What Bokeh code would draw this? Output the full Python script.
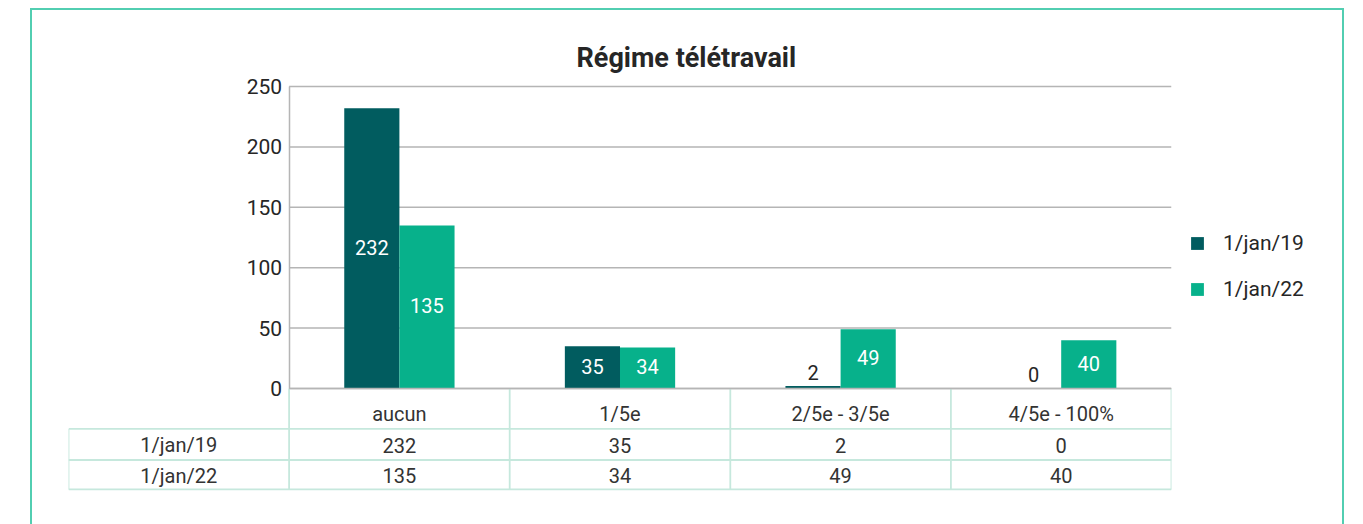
from bokeh.plotting import figure
from bokeh.models import FixedTicker, Legend, LegendItem, Range1d
from bokeh.core.properties import value
from bokeh.embed import file_html
from bokeh.resources import INLINE

# ---- data ----
categories = ["aucun", "1/5e", "2/5e - 3/5e", "4/5e - 100%"]
series_names = ["1/jan/19", "1/jan/22"]
values_2019 = [232, 35, 2, 0]
values_2022 = [135, 34, 49, 40]
y_ticks = [0, 50, 100, 150, 200, 250]
title_text = "Régime télétravail"

# ---- style ----
FONT = "Roboto"
DARK = "#015c5f"
LIGHT = "#07b18b"
GRID = "#b5b5b5"
TABLE_LINE = "#c6e8dd"
FRAME = "#52ceb1"
TEXT = "#262626"

n = len(categories)
BAR_W = 0.25
ROW_EDGES = [0, -33.5, -59.2, -83.6]   # table row boundaries (data units below zero)

p = figure(
    frame_width=1103, frame_height=416,
    min_border_left=38, min_border_right=173, min_border_top=66, min_border_bottom=34,
    x_range=Range1d(-1, n), y_range=Range1d(-84.44, 259.93),
    output_backend="svg", toolbar_location=None,
)
p.margin = (8, 0, 0, 30)
p.styles = {
    "width": "1314px",
    "max-width": "1314px",
    "box-shadow": f"inset 2px 0 0 0 {FRAME}, inset -2px 0 0 0 {FRAME}, inset 0 2px 0 0 {FRAME}",
}
p.outline_line_color = None
p.xgrid.visible = False
p.ygrid.visible = False
p.xaxis.visible = False
p.background_fill_alpha = 0
p.border_fill_alpha = 0

# title
p.title.text = title_text
p.title.text_font = FONT
p.title.text_font_size = "27px"
p.title.text_font_style = "bold"
p.title.text_color = TEXT
p.title.align = "left"
p.title.offset = 508
p.title.vertical_align = "bottom"
p.title.standoff = 1

# y axis fixed at x=0
ya = p.yaxis[0]
ya.fixed_location = 0
ya.bounds = (0, 250)
ya.ticker = FixedTicker(ticks=y_ticks)
ya.major_tick_line_color = None
ya.minor_tick_line_color = None
ya.axis_line_color = GRID
ya.axis_line_width = 1.5
ya.major_label_text_font = FONT
ya.major_label_text_font_size = "21px"
ya.major_label_text_color = TEXT
ya.major_label_standoff = 1

# gridlines (from tick values) across the plot area only
p.segment(x0=[0] * len(y_ticks), x1=[n] * len(y_ticks), y0=y_ticks, y1=y_ticks,
          line_color=GRID, line_width=1.5)

# bars
x19 = [i + 0.5 - BAR_W / 2 for i in range(n)]
x22 = [i + 0.5 + BAR_W / 2 for i in range(n)]
r19 = p.vbar(x=x19, top=values_2019, width=BAR_W, bottom=0, fill_color=DARK, line_color=None)
r22 = p.vbar(x=x22, top=values_2022, width=BAR_W, bottom=0, fill_color=LIGHT, line_color=None)

# value labels
inside_x, inside_y, inside_t = [], [], []
above_x, above_y, above_t = [], [], []
for xs, vals in ((x19, values_2019), (x22, values_2022)):
    for x, v in zip(xs, vals):
        if v >= 10:
            inside_x.append(x); inside_y.append(v / 2); inside_t.append(str(v))
        else:
            above_x.append(x); above_y.append(v); above_t.append(str(v))
p.text(x=inside_x, y=inside_y, text=inside_t, text_align="center", text_baseline="middle",
       text_color="white", text_font=value(FONT), text_font_size="20px", y_offset=-1)
p.text(x=above_x, y=above_y, text=above_t, text_align="center", text_baseline="middle",
       text_color=TEXT, text_font=value(FONT), text_font_size="20px", y_offset=-14)

# data table below the chart
hy = ROW_EDGES[1:]
p.segment(x0=[-1] * len(hy), x1=[n] * len(hy), y0=hy, y1=hy, line_color=TABLE_LINE, line_width=1.8)
vx = list(range(0, n + 1))
p.segment(x0=vx, x1=vx, y0=[0] * len(vx), y1=[ROW_EDGES[-1]] * len(vx),
          line_color=TABLE_LINE, line_width=1.8)
p.segment(x0=[-1], x1=[-1], y0=[ROW_EDGES[1]], y1=[ROW_EDGES[-1]],
          line_color=TABLE_LINE, line_width=1.8)
# zero line on top of table
p.segment(x0=[0], x1=[n], y0=[0], y1=[0], line_color=GRID, line_width=1.5)

hdr_y = (ROW_EDGES[0] + ROW_EDGES[1]) / 2 - 4
r1_y = (ROW_EDGES[1] + ROW_EDGES[2]) / 2 - 0.6
r2_y = (ROW_EDGES[2] + ROW_EDGES[3]) / 2 - 0.8
cx = [i + 0.5 for i in range(n)]
p.text(x=cx, y=[hdr_y] * n, text=categories, text_align="center", text_baseline="middle",
       text_color="#333333", text_font=value(FONT), text_font_size="20px")
p.text(x=[-0.5] + cx, y=[r1_y] * (n + 1), text=[series_names[0]] + [str(v) for v in values_2019],
       text_align="center", text_baseline="middle",
       text_color="#333333", text_font=value(FONT), text_font_size="20px")
p.text(x=[-0.5] + cx, y=[r2_y] * (n + 1), text=[series_names[1]] + [str(v) for v in values_2022],
       text_align="center", text_baseline="middle",
       text_color="#333333", text_font=value(FONT), text_font_size="20px")

# legend
legend = Legend(items=[LegendItem(label=series_names[0], renderers=[r19]),
                       LegendItem(label=series_names[1], renderers=[r22])],
                location=(18, 189), orientation="vertical")
legend.glyph_width = 16
legend.glyph_height = 16
legend.label_standoff = 18
legend.spacing = 22
legend.padding = 0
legend.margin = 0
legend.border_line_color = None
legend.background_fill_alpha = 0
legend.label_text_font = FONT
legend.label_text_font_size = "21px"
legend.label_text_color = TEXT
p.add_layout(legend, "right")

open("out.html", "w").write(file_html(p, INLINE))
